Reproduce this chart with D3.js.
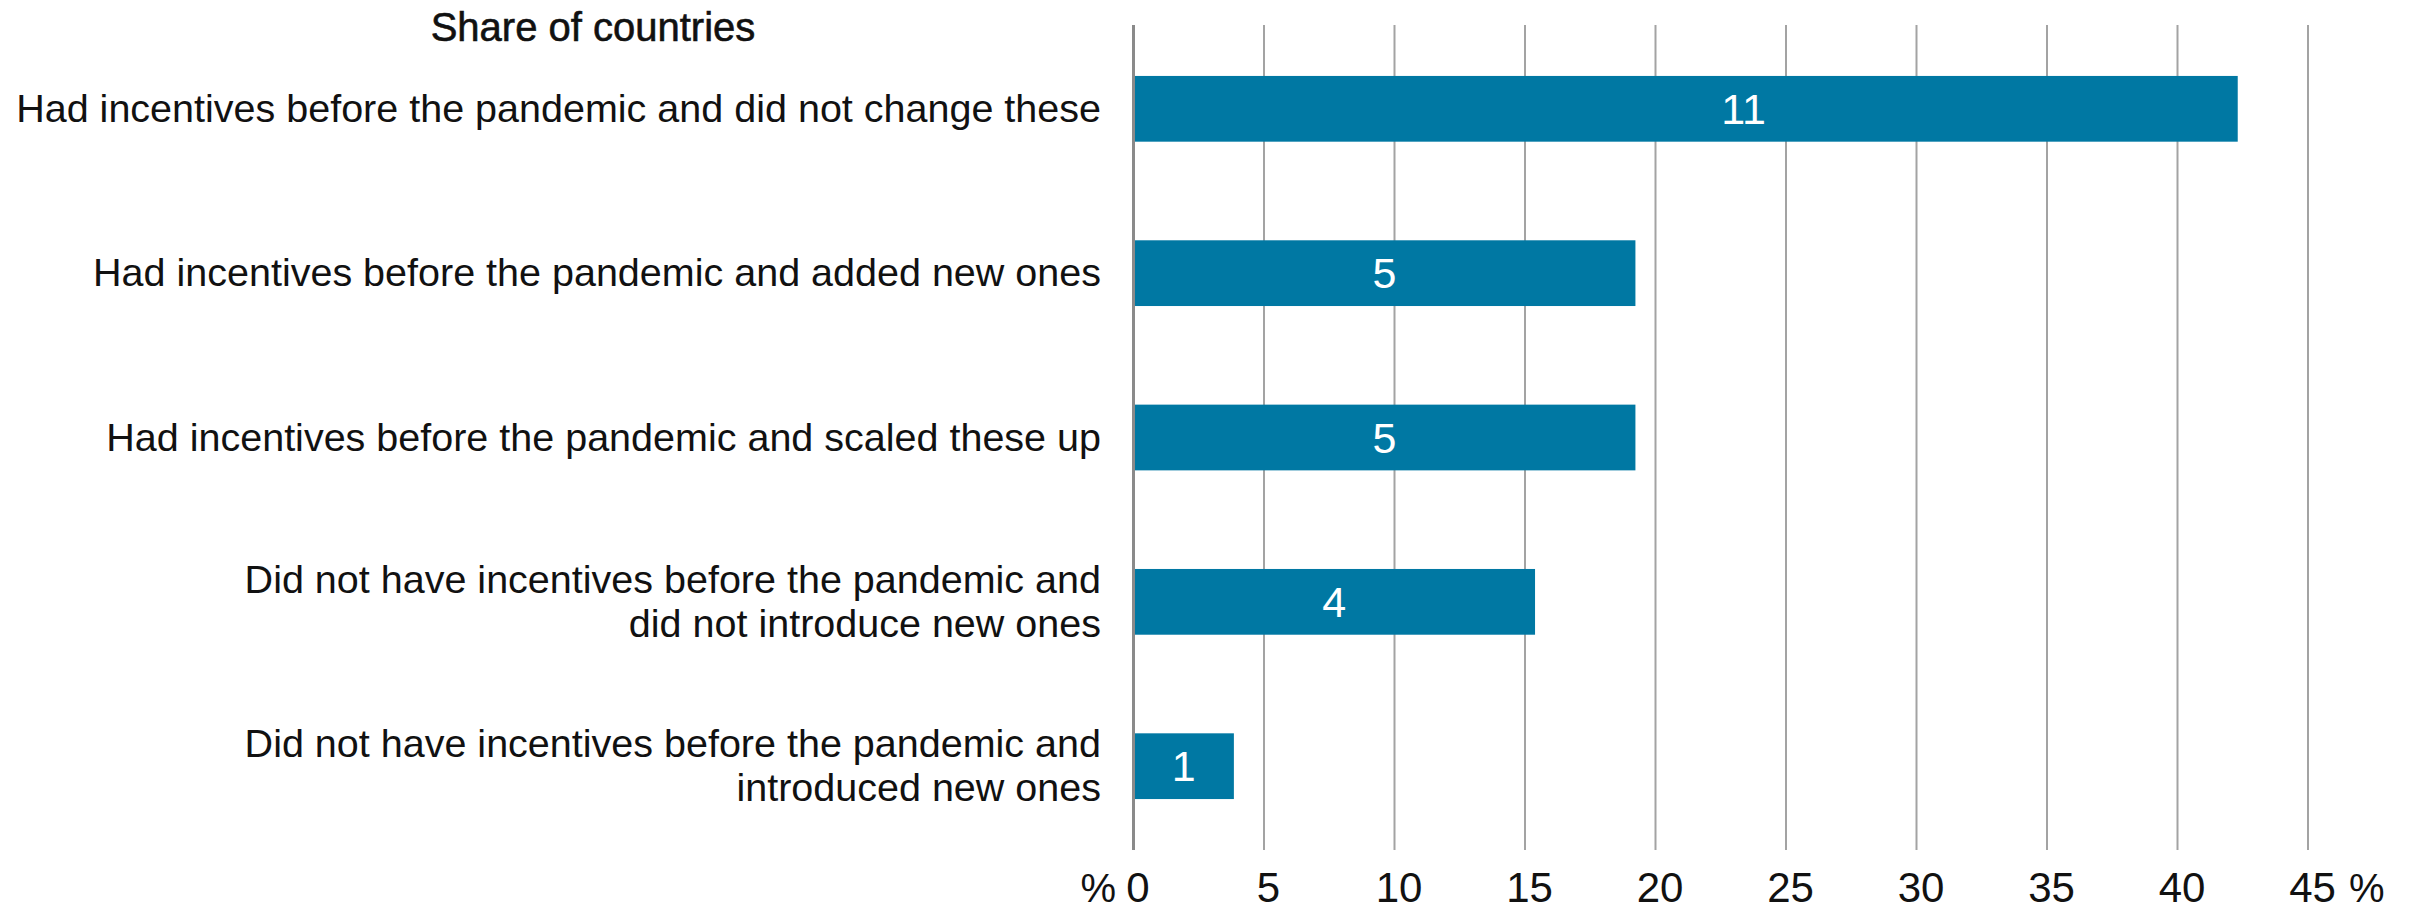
<!DOCTYPE html>
<html>
<head>
<meta charset="utf-8">
<script src="https://cdn.jsdelivr.net/npm/d3@7"></script>
<style>
  html, body { margin: 0; padding: 0; background: #fff; }
  svg { display: block; }
  text { font-family: "Liberation Sans", Arial, sans-serif; fill: #111; }
</style>
</head>
<body>
<svg id="chart" width="2412" height="910"></svg>
<script>
// Survey responses: number of countries in each group
const categories = [
  ["Had incentives before the pandemic and did not change these"],
  ["Had incentives before the pandemic and added new ones"],
  ["Had incentives before the pandemic and scaled these up"],
  ["Did not have incentives before the pandemic and", "did not introduce new ones"],
  ["Did not have incentives before the pandemic and", "introduced new ones"]
];
const countryCounts = [11, 5, 5, 4, 1];
const xTicks = [0, 5, 10, 15, 20, 25, 30, 35, 40, 45];
const titleText = "Share of countries";
const unitLabel = "%";

const total = d3.sum(countryCounts);
const rows = categories.map((lines, i) => ({
  lines,
  count: countryCounts[i],
  share: countryCounts[i] / total * 100,
  i
}));

const svg = d3.select("#chart");
const barColor = "#0078a3";

const x = d3.scaleLinear().domain([0, 45]).range([1133.5, 2308]);
const y = d3.scaleBand()
  .domain(rows.map(d => d.i))
  .range([25, 850])
  .paddingInner(0.6)
  .paddingOuter(0.31);

// vertical gridlines
svg.append("g")
  .selectAll("line")
  .data(xTicks.filter(t => t > 0))
  .join("line")
  .attr("x1", d => x(d)).attr("x2", d => x(d))
  .attr("y1", 25).attr("y2", 850)
  .attr("stroke", "#a3a3a3")
  .attr("stroke-width", 2);

// bars
svg.append("g")
  .selectAll("rect")
  .data(rows)
  .join("rect")
  .attr("x", x(0))
  .attr("y", d => y(d.i))
  .attr("width", d => x(d.share) - x(0))
  .attr("height", y.bandwidth())
  .attr("fill", barColor);

// zero axis line
svg.append("line")
  .attr("x1", x(0)).attr("x2", x(0))
  .attr("y1", 25).attr("y2", 850)
  .attr("stroke", "#8a8a8a")
  .attr("stroke-width", 3);

// count labels inside bars
svg.append("g")
  .selectAll("text")
  .data(rows)
  .join("text")
  .attr("x", d => x(d.share / 2) + (d.i === 0 ? 58 : 0))
  .attr("y", d => y(d.i) + y.bandwidth() / 2 + 15)
  .attr("text-anchor", "middle")
  .style("fill", "#fff")
  .style("font-size", "43px")
  .text(d => d.count);

// category labels
const catG = svg.append("g");
rows.forEach(d => {
  const cy = y(d.i) + y.bandwidth() / 2;
  const n = d.lines.length;
  const lh = 44;
  const base = cy + 13 - (n - 1) * lh / 2;
  const t = catG.append("text")
    .attr("text-anchor", "end")
    .style("font-size", "39.5px");
  d.lines.forEach((ln, k) => {
    t.append("tspan")
      .attr("x", 1101)
      .attr("y", base + k * lh)
      .text(ln);
  });
});

// x axis tick labels
const axis = d3.axisBottom(x).tickValues(xTicks).tickSize(0).tickPadding(0);
const axG = svg.append("g")
  .attr("transform", "translate(4, 0)")
  .call(axis);
axG.select(".domain").remove();
axG.selectAll("text")
  .attr("y", 902)
  .attr("dy", null)
  .style("font-size", "42px")
  .style("font-family", "'Liberation Sans', Arial, sans-serif")
  .style("fill", "#111");

// unit markers at both ends of the axis
svg.append("text")
  .attr("x", 1116).attr("y", 902)
  .attr("text-anchor", "end")
  .style("font-size", "40px")
  .text(unitLabel);
svg.append("text")
  .attr("x", 2349).attr("y", 902)
  .attr("text-anchor", "start")
  .style("font-size", "40px")
  .text(unitLabel);

// axis title
svg.append("text")
  .attr("x", 593).attr("y", 41)
  .attr("text-anchor", "middle")
  .style("font-size", "40px")
  .style("stroke", "#111")
  .style("stroke-width", 0.6)
  .text(titleText);
</script>
</body>
</html>
